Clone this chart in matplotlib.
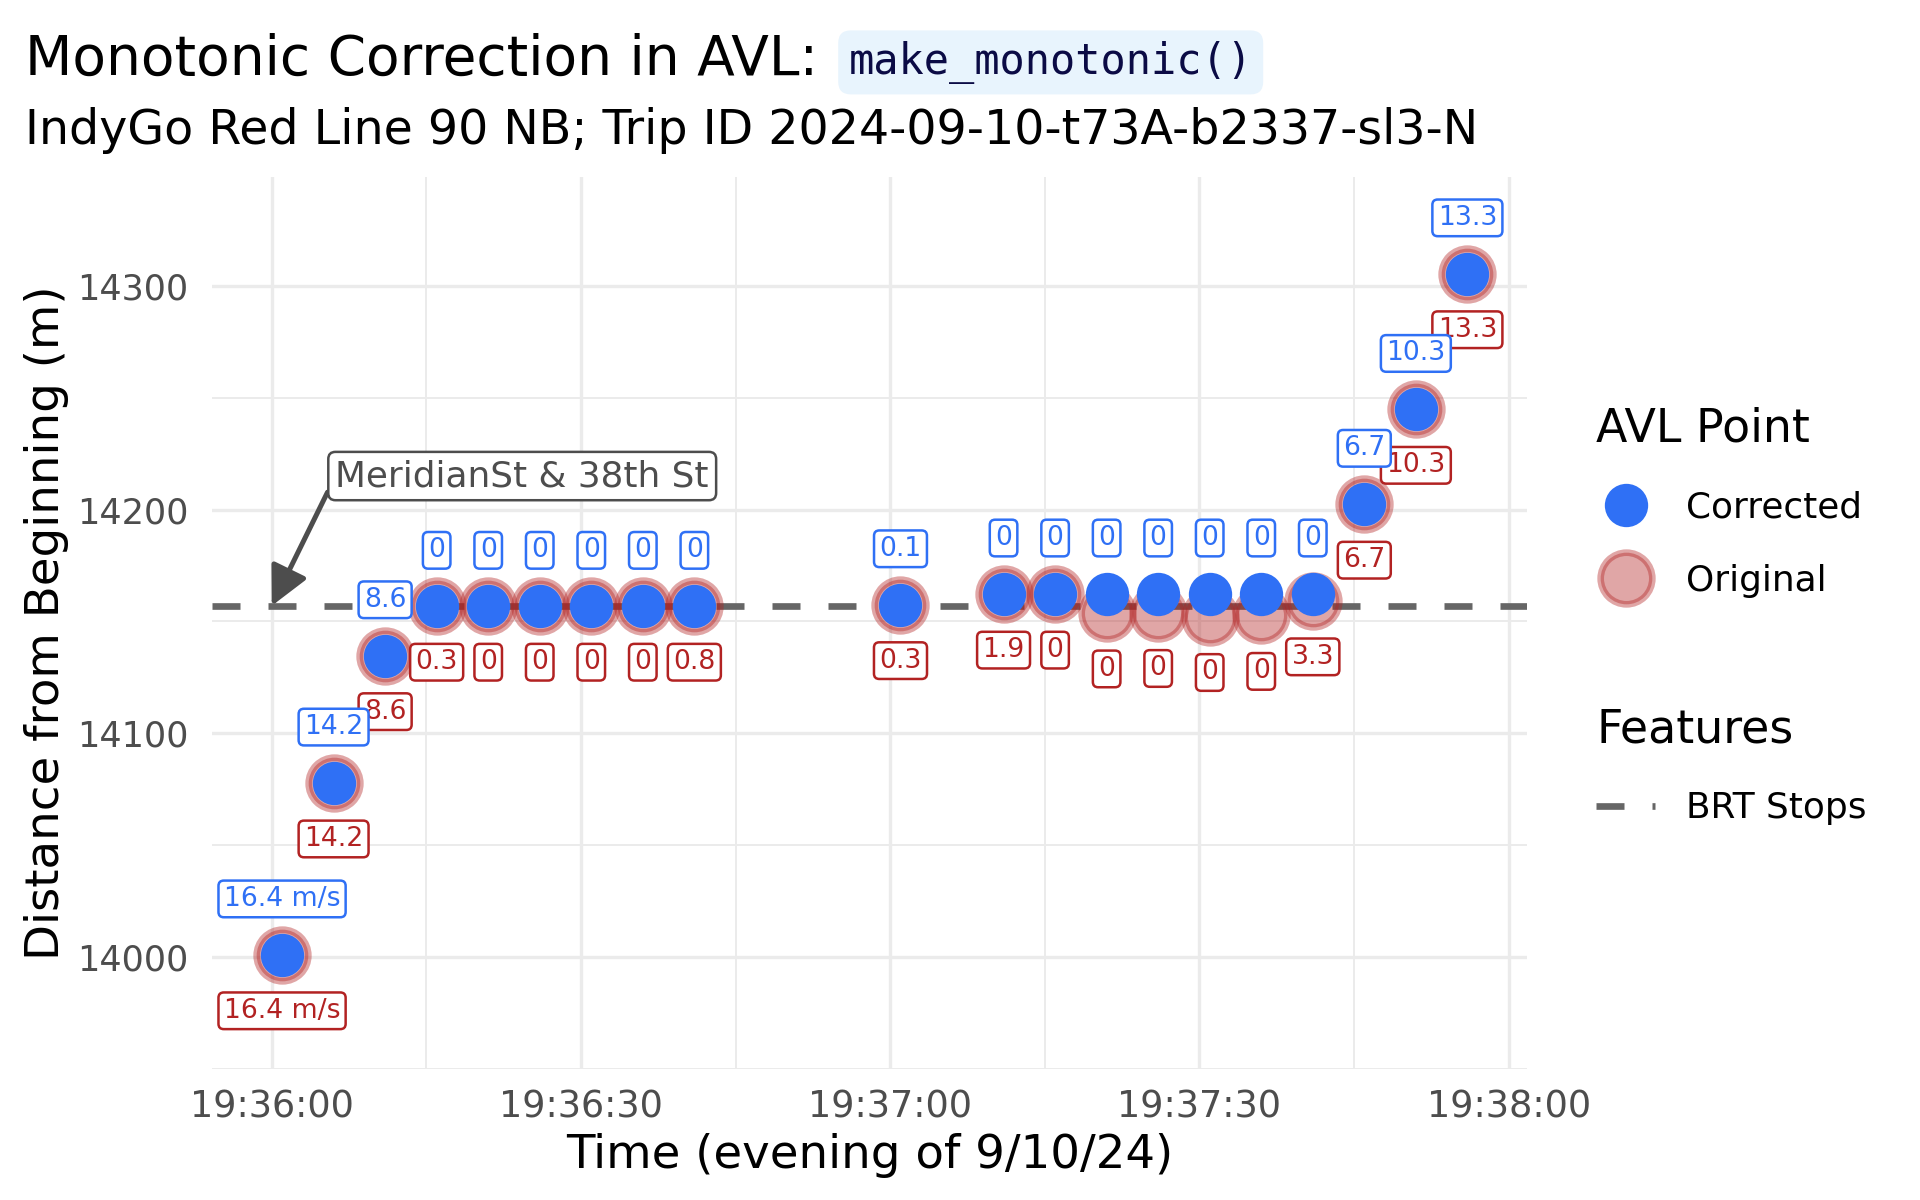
import matplotlib
matplotlib.use("Agg")
import matplotlib.pyplot as plt
import matplotlib.dates as mdates
from matplotlib.lines import Line2D
import pandas as pd

# AVL pings for the trip (evening of 9/10/24)
times = ["19:36:01", "19:36:06", "19:36:11", "19:36:16", "19:36:21",
         "19:36:26", "19:36:31", "19:36:36", "19:36:41", "19:37:01",
         "19:37:11", "19:37:16", "19:37:21", "19:37:26", "19:37:31",
         "19:37:36", "19:37:41", "19:37:46", "19:37:51", "19:37:56"]
dist_original = [14001.0, 14077.8, 14134.7, 14156.8, 14156.8,
                 14156.8, 14156.8, 14156.8, 14156.8, 14157.5,
                 14162.2, 14162.2, 14153.8, 14154.0, 14152.2,
                 14152.7, 14159.2, 14202.4, 14244.8, 14305.4]
dist_corrected = [14001.0, 14077.8, 14134.7, 14156.8, 14156.8,
                  14156.8, 14156.8, 14156.8, 14156.8, 14157.5,
                  14162.3, 14162.3, 14162.3, 14162.3, 14162.3,
                  14162.3, 14162.3, 14202.4, 14244.8, 14305.4]
speed_original = ["16.4 m/s", "14.2", "8.6", "0.3", "0", "0", "0", "0",
                  "0.8", "0.3", "1.9", "0", "0", "0", "0", "0", "3.3",
                  "6.7", "10.3", "13.3"]
speed_corrected = ["16.4 m/s", "14.2", "8.6", "0", "0", "0", "0", "0",
                   "0", "0.1", "0", "0", "0", "0", "0", "0", "0",
                   "6.7", "10.3", "13.3"]

stop_name = "MeridianSt & 38th St"
stop_time = "19:36:00"
stop_dist = 14157.0

day = "2024-09-10 "
t = pd.to_datetime([day + s for s in times])
t_stop = pd.to_datetime(day + stop_time)

BLUE = "#2F70F5"
RED = "#B22222"
GREY = "#666666"
RED_A = (178 / 255, 34 / 255, 34 / 255, 0.4)
DASH = (4.2, 4.2)

plt.rcParams["font.family"] = ["DejaVu Sans"]

fig = plt.figure(figsize=(16, 10), dpi=120)
ax = fig.add_axes([0.1104, 0.1092, 0.685, 0.743])

# BRT stop line
ax.axhline(stop_dist, color=GREY, lw=4, dashes=DASH, zorder=1)

# points
ax.scatter(t, dist_original, s=31 ** 2, facecolor=RED_A, edgecolor=RED_A,
           linewidths=4, zorder=2)
ax.scatter(t, dist_corrected, s=26 ** 2, color=BLUE, linewidths=0, zorder=3)

# speed labels
nudge = 25
for x, y, s in zip(t, dist_original, speed_original):
    ax.text(x, y - nudge, s, ha="center", va="center", fontsize=16,
            color=RED, zorder=4,
            bbox=dict(boxstyle="round,pad=0.2,rounding_size=0.2",
                      fc="white", ec=RED, lw=1.5))
for x, y, s in zip(t, dist_corrected, speed_corrected):
    ax.text(x, y + nudge, s, ha="center", va="center", fontsize=16,
            color=BLUE, zorder=5,
            bbox=dict(boxstyle="round,pad=0.2,rounding_size=0.2",
                      fc="white", ec=BLUE, lw=1.5))

# stop annotation
ax.annotate(stop_name, xy=(t_stop, stop_dist),
            xytext=(t_stop + pd.Timedelta(seconds=24.3), 14215),
            ha="center", va="center", fontsize=21.5, color="#4D4D4D",
            zorder=6,
            bbox=dict(boxstyle="round,pad=0.2,rounding_size=0.2",
                      fc="white", ec="#4D4D4D", lw=1.5),
            arrowprops=dict(arrowstyle="-|>,head_length=0.9,head_width=0.45",
                            color="#4D4D4D", lw=3, relpos=(0, 0.5),
                            shrinkA=0, shrinkB=0, mutation_scale=22))

# axes
ax.set_xlim(t_stop - pd.Timedelta(seconds=5.8),
            t_stop + pd.Timedelta(seconds=121.8))
ax.set_ylim(13958.7, 14348.5)
ax.xaxis.set_major_locator(mdates.SecondLocator(bysecond=[0, 30]))
ax.xaxis.set_minor_locator(mdates.SecondLocator(bysecond=[15, 45]))
ax.xaxis.set_major_formatter(mdates.DateFormatter("%H:%M:%S"))
ax.set_yticks([14000, 14100, 14200, 14300])
ax.set_yticks([13950, 14050, 14150, 14250], minor=True)
ax.grid(which="major", color="#EBEBEB", lw=2.0)
ax.grid(which="minor", color="#EBEBEB", lw=1.2)
ax.set_axisbelow(True)
for sp in ax.spines.values():
    sp.set_visible(False)
ax.tick_params(which="both", length=0, labelcolor="#4D4D4D")
ax.tick_params(axis="x", pad=12, labelsize=22)
ax.tick_params(axis="y", pad=14, labelsize=21)

ax.set_xlabel("Time (evening of 9/10/24)", fontsize=28)
ax.set_ylabel("Distance from Beginning (m)", fontsize=28)
ax.xaxis.set_label_coords(0.5, -0.0718)
ax.yaxis.set_label_coords(-0.109, 0.5)

# title with an inline code span
title = fig.text(0.0129, 0.950, "Monotonic Correction in AVL: ", fontsize=33,
                 ha="left", va="center")
fig.text(0.0129, 0.891, "IndyGo Red Line 90 NB; Trip ID 2024-09-10-t73A-b2337-sl3-N",
         fontsize=28.5, ha="left", va="center")
fig.canvas.draw()
bb = title.get_window_extent().transformed(fig.transFigure.inverted())
fig.text(bb.x1 + 0.007, 0.948, "make_monotonic()", fontsize=25.2,
         family="DejaVu Sans Mono", color="#0B0B45", ha="left", va="center",
         bbox=dict(boxstyle="round,pad=0.25,rounding_size=0.3",
                   fc="#E8F4FD", ec="none"))

# legends
leg_kw = dict(loc="upper left", frameon=False, fontsize=21.5,
              title_fontsize=27.5, handlelength=1.65, handletextpad=0.85,
              labelspacing=1.09, borderpad=0, borderaxespad=0,
              alignment="left")
h_corr = Line2D([], [], ls="", marker="o", markersize=26, color=BLUE, mew=0)
h_orig = Line2D([], [], ls="", marker="o", markersize=31, mfc=RED_A,
                mec=RED_A, mew=4)
fig.legend([h_corr, h_orig], ["Corrected", "Original"], title="AVL Point",
           bbox_to_anchor=(0.8313, 0.661), **leg_kw)
h_stop = Line2D([], [], color=GREY, lw=4, dashes=DASH)
fig.legend([h_stop], ["BRT Stops"], title="Features",
           bbox_to_anchor=(0.8313, 0.4105), **leg_kw)

fig.savefig("out.png", dpi=120)
